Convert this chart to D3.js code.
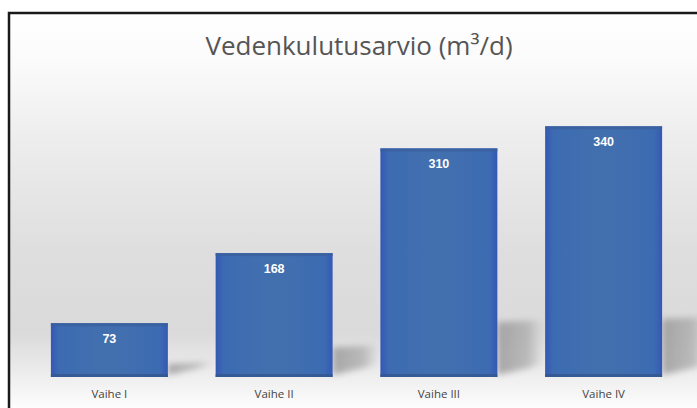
<!DOCTYPE html>
<html>
<head>
<meta charset="utf-8">
<script src="https://cdn.jsdelivr.net/npm/d3@7"></script>
<style>
  html, body { margin: 0; padding: 0; background: #ffffff; }
  svg { display: block; }
</style>
</head>
<body>
<script>
// Water consumption estimate per phase
const categories = ["Vaihe I", "Vaihe II", "Vaihe III", "Vaihe IV"];
const values = [73, 168, 310, 340];
const titleText = "Vedenkulutusarvio (m³/d)";

const W = 697, H = 408;
const frame = { left: 9, top: 13, right: 700, bottom: 412 };
const plot = { left: 27, right: 686, top: 82, bottom: 377 };

const svg = d3.select("body").append("svg")
  .attr("width", W).attr("height", H);

const defs = svg.append("defs");

// Chart area background: white at the top fading to light grey, then white again at the bottom
const bg = defs.append("linearGradient").attr("id", "bgGrad")
  .attr("x1", 0).attr("y1", 0).attr("x2", 0).attr("y2", 1);
[[0, "#ffffff"], [0.12, "#fbfbfb"], [0.3, "#eeeeee"], [0.6, "#dedede"], [0.8, "#dadada"], [0.9, "#ececec"], [1, "#ffffff"]]
  .forEach(([o, c]) => bg.append("stop").attr("offset", o).attr("stop-color", c));

// Bar fill: slightly darker, bluer edges
const bar = defs.append("linearGradient").attr("id", "barGrad")
  .attr("x1", 0).attr("y1", 0).attr("x2", 1).attr("y2", 0);
[[0, "#3458b4"], [0.07, "#3d6bb2"], [0.5, "#4270ae"], [0.93, "#3d6bb2"], [1, "#3458b4"]]
  .forEach(([o, c]) => bar.append("stop").attr("offset", o).attr("stop-color", c));

// Shadow fades out to the right
const sg = defs.append("linearGradient").attr("id", "shadowGrad")
  .attr("x1", 0).attr("y1", 0).attr("x2", 1).attr("y2", 0);
[[0, "#9a9a9a", 0.85], [0.7, "#a8a8a8", 0.7], [1, "#c8c8c8", 0.3]]
  .forEach(([o, c, a]) => sg.append("stop").attr("offset", o).attr("stop-color", c).attr("stop-opacity", a));

const blur = defs.append("filter").attr("id", "shadowBlur")
  .attr("x", "-30%").attr("y", "-30%").attr("width", "160%").attr("height", "160%");
blur.append("feGaussianBlur").attr("stdDeviation", 3);

// Frame with background
svg.append("rect")
  .attr("x", frame.left).attr("y", frame.top)
  .attr("width", frame.right - frame.left).attr("height", frame.bottom - frame.top)
  .attr("fill", "url(#bgGrad)")
  .attr("stroke", "#1a1a1a").attr("stroke-width", 2.5);

const x = d3.scaleBand().domain(categories)
  .range([plot.left, plot.right]).paddingInner(0.29).paddingOuter(0.145);
const y = d3.scaleLinear().domain([0, 400]).range([plot.bottom, plot.top]);

// Cast shadows to the right of the bars, longer for taller bars
svg.append("g").attr("filter", "url(#shadowBlur)")
  .selectAll("path").data(categories).join("path")
  .attr("d", (c, i) => {
    const xr = x(c) + x.bandwidth();
    const h = plot.bottom - y(values[i]);
    const s = Math.min(h * 0.24, 58);
    const dx = 44;
    return `M${xr},${plot.bottom - 2} L${xr},${plot.bottom - s}`
      + ` L${xr + dx},${plot.bottom - s - 2} L${xr + dx},${plot.bottom - 12} Z`;
  })
  .attr("fill", "url(#shadowGrad)");

// Bars
const bars = svg.append("g").selectAll("g").data(categories).join("g");
bars.append("rect")
  .attr("x", c => x(c))
  .attr("y", (c, i) => y(values[i]))
  .attr("width", x.bandwidth())
  .attr("height", (c, i) => plot.bottom - y(values[i]))
  .attr("fill", "url(#barGrad)");
bars.append("rect")
  .attr("x", c => x(c))
  .attr("y", (c, i) => y(values[i]))
  .attr("width", x.bandwidth())
  .attr("height", 3)
  .attr("fill", "#3a5f9e").attr("opacity", 0.8);
bars.append("rect")
  .attr("x", c => x(c))
  .attr("y", plot.bottom - 3)
  .attr("width", x.bandwidth())
  .attr("height", 3)
  .attr("fill", "#34568f").attr("opacity", 0.8);

// Value labels inside bars
bars.append("text")
  .attr("x", c => x(c) + x.bandwidth() / 2)
  .attr("y", (c, i) => y(values[i]) + 20)
  .attr("text-anchor", "middle")
  .attr("font-family", "'Liberation Sans', Arial, sans-serif")
  .attr("font-weight", "bold")
  .attr("font-size", 12.5)
  .attr("fill", "#ffffff")
  .text((c, i) => values[i]);

// Category axis (labels only)
const xAxis = svg.append("g")
  .attr("transform", `translate(0,${plot.bottom})`)
  .call(d3.axisBottom(x).tickSize(0).tickPadding(13));
xAxis.select(".domain").remove();
xAxis.selectAll("text")
  .attr("font-family", "'Open Sans', 'Noto Sans', sans-serif")
  .attr("font-size", 11.5)
  .attr("fill", "#444444");

// Title
svg.append("text")
  .attr("x", 359).attr("y", 55)
  .attr("text-anchor", "middle")
  .attr("font-family", "'Open Sans', 'Noto Sans', sans-serif")
  .attr("font-size", 26)
  .attr("fill", "#555555")
  .text(titleText);
</script>
</body>
</html>
